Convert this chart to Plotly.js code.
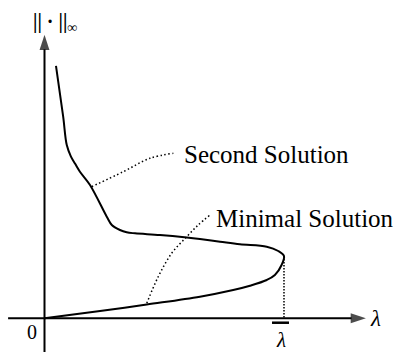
<!DOCTYPE html>
<html>
<head>
<meta charset="utf-8">
<script src="https://cdn.plot.ly/plotly-3.0.1.min.js"></script>
<style>
  body { margin: 0; background: #fff; }
  #plot { width: 395px; height: 353px; }
</style>
</head>
<body>
<div id="plot"></div>
<script>
// solution branch (lambda-bar = 1)
var lam = [0, 0.232, 0.427, 0.649, 0.788, 0.858, 0.928, 0.962, 0.990, 1.0,
  0.976, 0.928, 0.816, 0.733, 0.649, 0.594, 0.482, 0.378, 0.343, 0.315,
  0.281, 0.260, 0.190, 0.148, 0.128, 0.110, 0.093, 0.078, 0.048];
var norm = [0, 0.116, 0.222, 0.347, 0.454, 0.523, 0.615, 0.695, 0.856, 1.0,
  1.080, 1.149, 1.188, 1.230, 1.273, 1.297, 1.337, 1.364, 1.380, 1.417,
  1.498, 1.631, 2.140, 2.353, 2.480, 2.600, 2.780, 3.236, 4.050];

// dotted leader lines to the labels
var secondX = [0.197, 0.329, 0.440, 0.538];
var secondY = [2.112, 2.353, 2.568, 2.648];
var minimalX = [0.427, 0.475, 0.531, 0.594, 0.642, 0.691];
var minimalY = [0.241, 0.668, 1.043, 1.310, 1.498, 1.658];

var lamBar = 1.0;
var normAtTurn = 1.0;

// axis extents (tail, tip)
var lamAxis = [-0.152, 1.342];
var normAxis = [-0.541, 4.55];

var serif = 'Liberation Serif, Times New Roman, serif';

var curve = {
  x: lam, y: norm,
  mode: 'lines',
  line: {color: 'black', width: 2, shape: 'spline', smoothing: 1},
  hoverinfo: 'skip'
};

var leader1 = {
  x: secondX, y: secondY,
  mode: 'lines',
  line: {color: 'black', width: 1.5, dash: '1.5px,2.5px', shape: 'spline'},
  hoverinfo: 'skip'
};

var leader2 = {
  x: minimalX, y: minimalY,
  mode: 'lines',
  line: {color: 'black', width: 1.5, dash: '1.5px,2.5px', shape: 'spline'},
  hoverinfo: 'skip'
};

var drop = {
  x: [lamBar, lamBar], y: [normAtTurn, 0],
  mode: 'lines',
  line: {color: 'black', width: 1.5, dash: '1.5px,1.5px'},
  hoverinfo: 'skip'
};

var arrowMarker = {
  symbol: ['circle', 'arrow'], size: [0, 16], color: 'black',
  angleref: 'previous', line: {width: 0}
};

var xAxisLine = {
  x: lamAxis, y: [0, 0],
  mode: 'lines+markers',
  line: {color: 'black', width: 2},
  marker: arrowMarker,
  hoverinfo: 'skip'
};

var yAxisLine = {
  x: [0, 0], y: normAxis,
  mode: 'lines+markers',
  line: {color: 'black', width: 2},
  marker: arrowMarker,
  hoverinfo: 'skip'
};

var data = [drop, leader1, leader2, xAxisLine, yAxisLine, curve];

var layout = {
  width: 395, height: 353,
  margin: {l: 0, r: 0, t: 0, b: 0},
  showlegend: false,
  paper_bgcolor: 'white', plot_bgcolor: 'white',
  xaxis: {range: [-0.1858, 1.4635], visible: false, fixedrange: true},
  yaxis: {range: [-0.557, 5.109], visible: false, fixedrange: true},
  shapes: [
    {type: 'line', xref: 'x', yref: 'y', x0: 0.950, x1: 1.021, y0: -0.071, y1: -0.071,
     line: {color: 'black', width: 2.5}}
  ],
  annotations: [
    {x: 0.044, y: 4.74, text: '|| · ||<sub>∞</sub>', showarrow: false,
     font: {family: serif, size: 20, color: 'black', weight: 'bold'}},
    {x: 1.380, y: -0.011, text: '<i>λ</i>', showarrow: false,
     font: {family: serif, size: 23, color: 'black'}},
    {x: -0.052, y: -0.215, text: '0', showarrow: false,
     font: {family: serif, size: 20, color: 'black'}},
    {x: 0.987, y: -0.348, text: '<i>λ</i>', showarrow: false,
     font: {family: serif, size: 21, color: 'black'}},
    {x: 0.575, y: 2.634, text: 'Second Solution', showarrow: false, xanchor: 'left',
     font: {family: serif, size: 25, color: 'black'}},
    {x: 0.709, y: 1.605, text: 'Minimal Solution', showarrow: false, xanchor: 'left',
     font: {family: serif, size: 25, color: 'black'}}
  ]
};

Plotly.newPlot('plot', data, layout, {displayModeBar: false, staticPlot: true});
</script>
</body>
</html>
